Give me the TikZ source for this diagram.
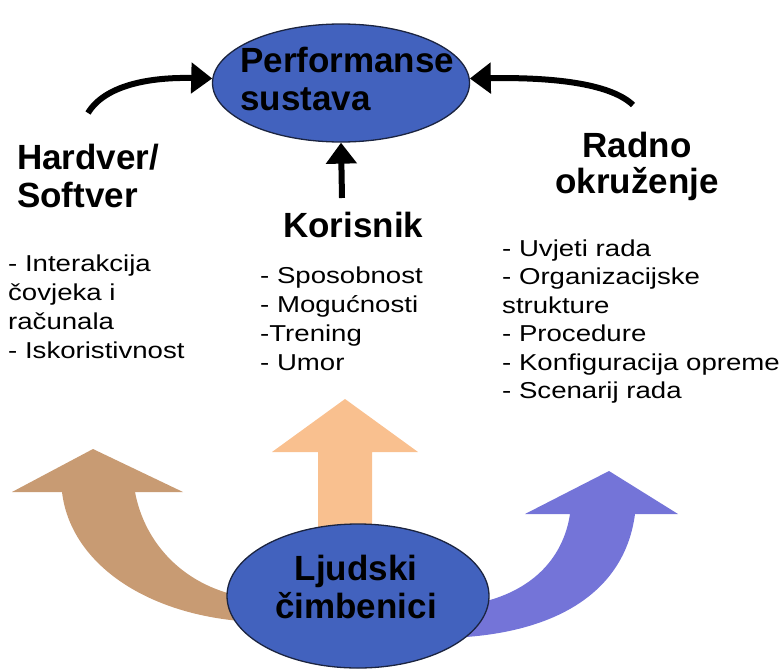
\documentclass[tikz,border=0pt]{standalone}
\usepackage{fontspec}
\setmainfont{Liberation Sans}
\newfontfamily\listfont{Liberation Sans}[FakeStretch=1.2]
\usetikzlibrary{arrows.meta,shapes.geometric}
\definecolor{ellblue}{HTML}{4262BE}
\definecolor{ellline}{HTML}{1B2440}
\definecolor{orangearr}{HTML}{F9C08F}
\definecolor{brownarr}{HTML}{C89B73}
\definecolor{purplearr}{HTML}{7474D8}
\tikzset{
  ell/.style={ellipse, fill=ellblue, draw=ellline, line width=1.3pt, inner sep=0pt},
  head/.style={inner sep=0pt, font=\fontsize{35}{37.5}\selectfont\bfseries},
  listtext/.style={inner sep=0pt, align=left, font=\listfont\fontsize{23}{29}\selectfont},
  blkarrow/.style={line width=6pt, -{Triangle[length=21pt,width=30pt]}}
}
\begin{document}
\begin{tikzpicture}[x=1pt,y=-1pt]
\useasboundingbox (0,0) rectangle (783,669);

% big coloured arrows (behind the lower ellipse)
\fill[orangearr] (318,535) -- (318,452) -- (272,452) -- (345,399) -- (418,452) -- (372,452) -- (372,535) -- cycle;
\fill[brownarr] (62,492) -- (12,492) -- (93,449) -- (183,492) -- (135,492)
  .. controls (145,545) and (185,585) .. (240,596) -- (240,621)
  .. controls (140,612) and (70,560) .. (62,492) -- cycle;
\fill[purplearr] (570,514) -- (525,514) -- (609,471) -- (678,514) -- (635,514)
  .. controls (625,590) and (560,630) .. (466,637) -- (478,603)
  .. controls (530,592) and (563,560) .. (570,514) -- cycle;

% ellipses
\node[ell, minimum width=257pt, minimum height=118pt] (top) at (341,83) {};
\node[ell, minimum width=262pt, minimum height=144pt] (bottom) at (358,596) {};

% (base anchor of a multi-line node = baseline of its last line)
\node[head, anchor=base west, align=left] (toptext) at (240,110) {Performanse\\sustava};
\node[head, anchor=base, align=center] (bottomtext) at (356,618) {Ljudski\\čimbenici};

% headings
\node[head, anchor=base west, align=left] (hw) at (17,207) {Hardver/\\Softver};
\node[head, anchor=base west] (kor) at (283,237) {Korisnik};
\node[head, anchor=base, align=center, font=\fontsize{35}{36}\selectfont\bfseries] (env) at (637,193) {Radno\\okruženje};

% lists
\node[listtext, anchor=base west] (hwlist) at (8,358) {- Interakcija\\čovjeka i\\računala\\- Iskoristivnost};
\node[listtext, anchor=base west] (korlist) at (260,370) {- Sposobnost\\- Mogućnosti\\-Trening\\- Umor};
\node[listtext, anchor=base west, font=\listfont\fontsize{23}{28.5}\selectfont] (envlist) at (502,398.5) {- Uvjeti rada\\- Organizacijske\\strukture\\- Procedure\\- Konfiguracija opreme\\- Scenarij rada};

% black arrows into the system performance ellipse
\coordinate (lt) at (88,113);
\coordinate (rt) at (633,105);
\coordinate (mt) at (342,198);
\draw[blkarrow] (lt) .. controls (105,85) and (150,77) .. (top.178);
\draw[blkarrow] (rt) .. controls (612,85) and (560,77) .. (top.2);
\draw[blkarrow] (mt) -- (top.south);
\end{tikzpicture}
\end{document}
